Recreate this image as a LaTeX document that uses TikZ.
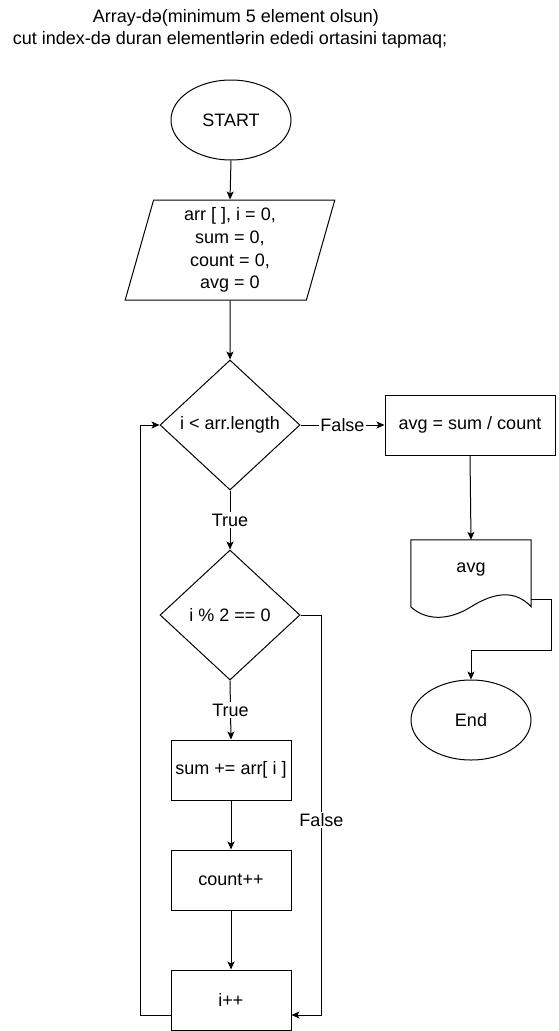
\documentclass[tikz,border=0pt]{standalone}
\usepackage{fontspec}
\setmainfont{Liberation Sans}
\usetikzlibrary{shapes.geometric,arrows.meta,calc}
\begin{document}
\begin{tikzpicture}[x=1pt,y=-1pt,
  every node/.style={font=\fontsize{18}{22.8}\selectfont, text=black},
  line/.style={draw, line width=1pt},
  arr/.style={line, -{Stealth[length=8pt,width=7pt,inset=2pt]}},
  proc/.style={draw, line width=1pt, rectangle, minimum width=120pt, minimum height=60pt, inner sep=0pt},
  term/.style={draw, line width=1pt, ellipse, minimum width=120pt, minimum height=80pt, inner sep=0pt},
  cond/.style={draw, line width=1pt, diamond, minimum width=140pt, minimum height=130pt, inner sep=0pt},
  io/.style={draw, line width=1pt, trapezium, trapezium left angle=78.7, trapezium right angle=101.3,
             trapezium stretches=true, minimum width=210pt, minimum height=100pt, inner sep=0pt, align=center},
  lbl/.style={fill=white, inner sep=1.5pt}
]
\useasboundingbox (0,0) rectangle (559,1031);

% heading
\node (title1) at (236,18) {Array-də(minimum 5 element olsun)};
\node (title2) at (230,40) {cut index-də duran elementlərin ededi ortasini tapmaq;};

% main column
\node[term] (start) at (231,120) {START};
\node[io] (init) at (230,250) {arr [ ], i = 0,\\sum = 0,\\count = 0,\\avg = 0};
\node[cond] (loop) at (230,425) {i < arr.length};
\node[cond] (even) at (230,615) {i \% 2 == 0};
\node[proc] (add) at (231,770) {sum += arr[ i ]};
\node[proc] (cnt) at (231,880) {count++};
\node[proc] (inc) at (231,1000) {i++};

% result column
\node[proc, minimum width=170pt] (avgcalc) at (470,425) {avg = sum / count};
\node[inner sep=0pt, minimum width=120pt, minimum height=60pt] (doc) at (471,570) {avg};
\node[term] (stop) at (471,720) {End};

% document outline with wavy bottom
\draw[line]
  (doc.north west) -- (doc.north east) -- ($(doc.north east)+(0,67)$)
  .. controls ($(doc.north east)+(-16,50)$) and ($(doc.north east)+(-36,52)$) .. ($(doc.north)+(0,67)$)
  .. controls ($(doc.north)+(-24,82)$) and ($(doc.north west)+(14,80)$) .. ($(doc.north west)+(0,67)$)
  -- cycle;
\coordinate (docout) at ($(doc.north east)+(0,60)$);

% connectors
\draw[arr] (start.south) -- (init.north);
\draw[arr] (init.south) -- (loop.north);
\draw[arr] (loop.east) -- node[lbl] {False} (avgcalc.west);
\draw[arr] (loop.south) -- node[lbl] {True} (even.north);
\draw[arr] (even.south) -- node[lbl] {True} (add.north);
\draw[arr] (add.south) -- (cnt.north);
\draw[arr] (cnt.south) -- (inc.north);
\draw[arr] ($(inc.west)+(0,15)$) -- ++(-30,0) |- (loop.west);
\draw[arr] (even.east) -- ++(21,0) |- node[lbl, pos=0.256] {False} ($(inc.east)+(0,15)$);
\draw[arr] (avgcalc.south) -- (doc.north);
\draw[arr] (docout) -- ++(20,0) |- ($(stop.north)+(0,-29)$) -- (stop.north);
\end{tikzpicture}
\end{document}
